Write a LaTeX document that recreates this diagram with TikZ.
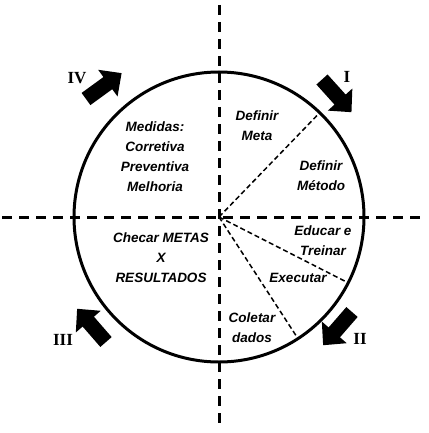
\documentclass[tikz,border=0pt]{standalone}
\usepackage{fontspec}
\newfontfamily\labfont{Liberation Sans}
\newfontfamily\numfont{Liberation Serif}
\begin{document}
\begin{tikzpicture}[x=1pt,y=-1pt,
  axis/.style={line width=3pt, dash pattern=on 10pt off 7pt},
  ray/.style={line width=1.5pt, dash pattern=on 5pt off 3pt},
  txt/.style={font=\labfont\bfseries\itshape\fontsize{13.5}{20}\selectfont, align=center, inner sep=0pt},
  num/.style={font=\numfont\bfseries\fontsize{17}{17}\selectfont, inner sep=0pt},
  blockarrow/.pic={\fill (0,-7.5) -- (27,-7.5) -- (27,-16.5) -- (44,0) -- (27,16.5) -- (27,7.5) -- (0,7.5) -- cycle;}
]
\useasboundingbox (0,0) rectangle (428,433);
\coordinate (c) at (219,217);
\coordinate (vt) at (219,5);
\coordinate (vb) at (219,427);
\coordinate (hl) at (2,217);
\coordinate (hr) at (426,217);
\draw[axis] (vt) -- (vb);
\draw[axis] (hl) -- (hr);
\node[circle, draw, line width=3pt, minimum size=290pt, inner sep=0pt, outer sep=0pt] (circ) at (c) {};
\draw[ray] (c) -- (circ.46);
\draw[ray] (c) -- (circ.-27);
\draw[ray] (c) -- (circ.-57);
% block arrows
\pic[rotate=-48] (arrI) at (322,79.5) {blockarrow};
\pic[rotate=-131] (arrII) at (352,312) {blockarrow};
\pic[rotate=131] (arrIII) at (106,342) {blockarrow};
\pic[rotate=36] (arrIV) at (86,99) {blockarrow};
% numerals
\node[num] (nI) at (347,77) {I};
\node[num] (nII) at (360,339) {II};
\node[num] (nIII) at (63,340) {III};
\node[num] (nIV) at (77,78) {IV};
% texts
\node[txt] (med) at (155,157) {Medidas:\\Corretiva\\Preventiva\\Melhoria};
\node[txt] (meta) at (257,126) {Definir\\Meta};
\node[txt] (metodo) at (321,176) {Definir\\Método};
\node[txt] (educ) at (323,241) {Educar e\\Treinar};
\node[txt] (exec) at (298,278) {Executar};
\node[txt] (colet) at (252,328) {Coletar\\dados};
\node[txt] (check) at (161,258) {Checar METAS\\X\\RESULTADOS};
\end{tikzpicture}
\end{document}
